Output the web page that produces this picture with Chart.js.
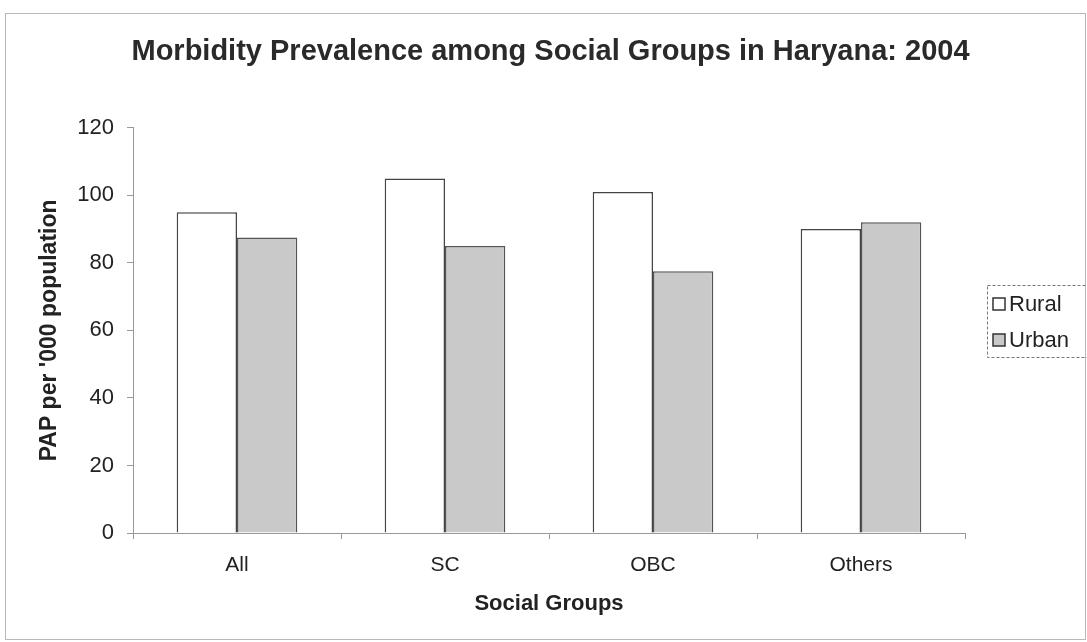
<!DOCTYPE html>
<html>
<head>
<meta charset="utf-8">
<script src="https://cdn.jsdelivr.net/npm/chart.js@4"></script>
<style>
  body { margin: 0; background: #fff; }
  #wrap { width: 1087px; height: 642px; }
</style>
</head>
<body>
<div id="wrap"><canvas id="bars"></canvas></div>
<script>
var groups = ['All', 'SC', 'OBC', 'Others'];
var rural = [95, 105, 101, 90];
var urban = [87.5, 85, 77.5, 92];
var yTicks = [0, 20, 40, 60, 80, 100, 120];

var fontFam = '"Liberation Sans", Arial, sans-serif';

// frame round the whole chart, like the sheet border in the scan
var frame = {
    id: 'frame',
    beforeDraw: function (chart) {
        var c = chart.ctx;
        c.save();
        c.fillStyle = '#fff';
        c.fillRect(0, 0, chart.width, chart.height);
        c.strokeStyle = '#b8b8b8';
        c.lineWidth = 1;
        c.strokeRect(5.5, 13.5, 1080, 626);
        c.restore();
    }
};

// boxed legend on the right, partly cut off by the edge
var sideLegend = {
    id: 'sideLegend',
    afterDraw: function (chart) {
        var c = chart.ctx;
        c.save();
        c.strokeStyle = '#777';
        c.setLineDash([3, 2]);
        c.lineWidth = 1;
        c.strokeRect(987.5, 285.5, 110, 72);
        c.setLineDash([]);
        c.font = '22px ' + fontFam;
        c.textBaseline = 'middle';
        chart.data.datasets.forEach(function (ds, i) {
            var y = 304 + i * 36;
            c.fillStyle = ds.backgroundColor;
            c.fillRect(993, y - 6, 12, 12);
            c.strokeStyle = '#333';
            c.lineWidth = 1.5;
            c.strokeRect(993, y - 6, 12, 12);
            c.fillStyle = '#222';
            c.fillText(ds.label, 1009, y + 1);
        });
        c.restore();
    }
};

new Chart(document.getElementById('bars').getContext('2d'), {
    type: 'bar',
    data: {
        labels: groups,
        datasets: [{
            label: 'Rural',
            data: rural,
            backgroundColor: '#ffffff',
            borderColor: '#444',
            borderWidth: 1.5
        }, {
            label: 'Urban',
            data: urban,
            backgroundColor: '#c9c9c9',
            borderColor: '#555',
            borderWidth: 1.5
        }]
    },
    options: {
        responsive: true,
        maintainAspectRatio: false,
        animation: false,
        layout: { padding: { left: 14, right: 0, top: 0, bottom: 0 } },
        datasets: { bar: { barPercentage: 1, categoryPercentage: 0.58 } },
        plugins: {
            legend: { display: false },
            tooltip: { enabled: false },
            title: {
                display: true,
                text: 'Morbidity Prevalence among Social Groups in Haryana: 2004',
                color: '#2a2a2a',
                font: { family: fontFam, size: 29, weight: 'bold' },
                padding: { top: 35, bottom: 58 }
            }
        },
        scales: {
            x: {
                grid: { display: true, drawOnChartArea: false, offset: true, tickLength: 6, color: '#999' },
                border: { color: '#999' },
                ticks: { color: '#222', padding: 14, font: { family: fontFam, size: 21 } },
                title: {
                    display: true,
                    text: 'Social Groups',
                    color: '#222',
                    font: { family: fontFam, size: 22, weight: 'bold' },
                    padding: { top: 0, bottom: 25 }
                },
                afterFit: function (s) { s.height = 109; }
            },
            y: {
                min: 0,
                max: 120,
                afterBuildTicks: function (s) { s.ticks = yTicks.map(function (v) { return { value: v }; }); },
                grid: { display: true, drawOnChartArea: false, tickLength: 6, color: '#999' },
                border: { color: '#999' },
                ticks: { color: '#222', padding: 13, font: { family: fontFam, size: 22 } },
                title: {
                    display: true,
                    text: "PAP per '000 population",
                    color: '#222',
                    font: { family: fontFam, size: 23, weight: 'bold' },
                    padding: { top: 22, bottom: 0 }
                },
                afterFit: function (s) { s.width = 119; }
            },
            // empty axis that only keeps room for the legend on the right
            side: {
                position: 'right',
                display: true,
                grid: { display: false },
                border: { display: false },
                ticks: { display: false },
                afterFit: function (s) { s.width = 122; }
            }
        }
    },
    plugins: [frame, sideLegend]
});
</script>
</body>
</html>
